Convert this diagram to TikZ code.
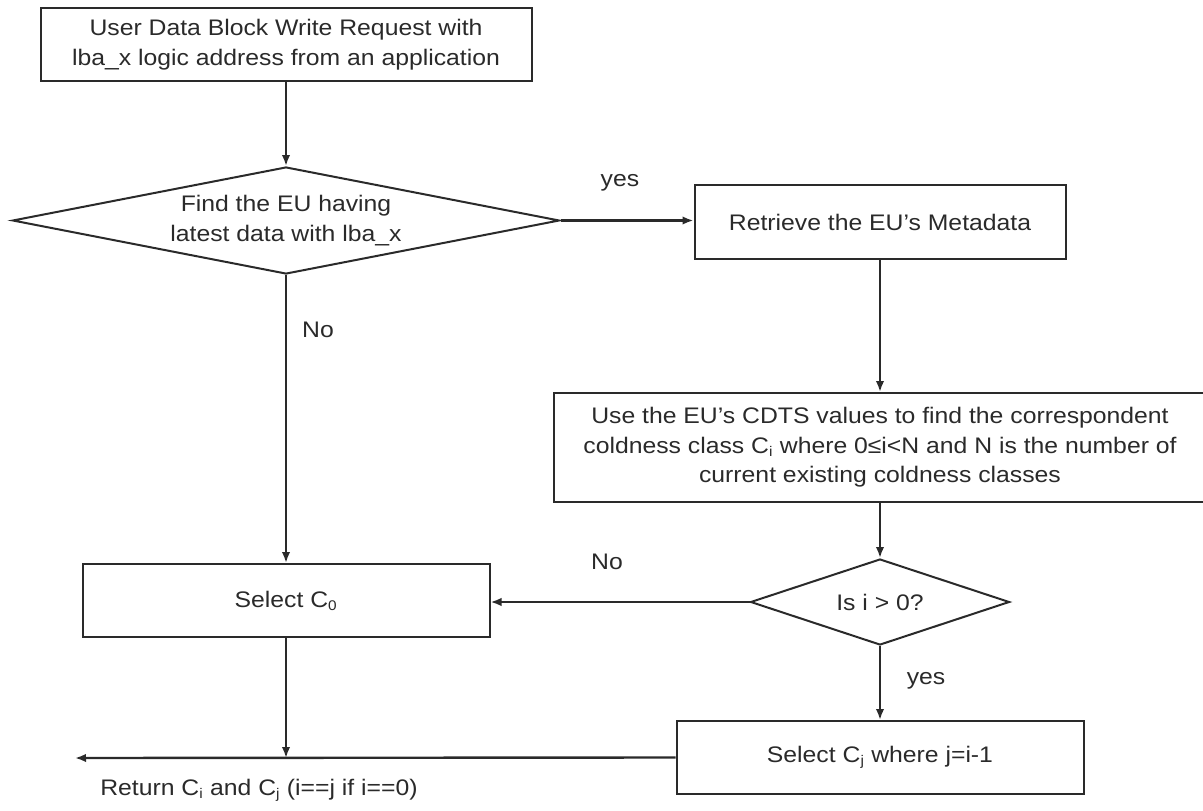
\documentclass[tikz,border=0pt]{standalone}
\usepackage{fontspec}
\setmainfont[FakeStretch=1.1]{Liberation Sans}
\usetikzlibrary{shapes.geometric,arrows.meta}
\definecolor{ink}{HTML}{2A2A2A}
\tikzset{
  x=1pt,y=-1pt,
  every node/.style={font=\fontsize{22.5}{29.5}\selectfont, text=ink},
  procbox/.style={draw=ink, line width=2pt, rectangle, inner sep=0pt, align=center},
  decision/.style={draw=ink, line width=2pt, diamond, inner xsep=0pt, inner ysep=-12pt, aspect=5, align=center},
  flow/.style={draw=ink, line width=2.4pt, -{Latex[length=11pt,width=8.5pt]}},
  lbl/.style={inner sep=0pt}
}
\newcommand{\sbs}[1]{\textsubscript{\fontsize{14}{14}\selectfont #1}}
\begin{document}
\begin{tikzpicture}
\useasboundingbox (0,0) rectangle (1203,811);
\node[procbox, minimum width=491pt, minimum height=73pt] (top) at (286,44.5)
  {User Data Block Write Request with\\lba\_x logic address from an application};
\node[decision, minimum width=547pt, minimum height=107pt] (d1) at (286,220.5)
  {Find the EU having\\latest data with lba\_x};
\node[procbox, minimum width=371pt, minimum height=74pt] (ret) at (880,222)
  {Retrieve the EU's Metadata};
\node[procbox, minimum width=652pt, minimum height=109pt] (cdts) at (880,447.5)
  {Use the EU's CDTS values to find the correspondent\\coldness class C\sbs{i} where 0≤i<N and N is the number of\\current existing coldness classes};
\node[decision, minimum width=259pt, minimum height=86pt] (d2) at (880,602)
  {Is i > 0?};
\node[procbox, minimum width=407pt, minimum height=73pt] (c0) at (286,600.5)
  {Select C\sbs{0}};
\node[procbox, minimum width=407pt, minimum height=73pt] (cj) at (880,757.5)
  {Select C\sbs{j} where j=i-1};
\coordinate (retend) at (75,758);

\draw[flow] (top.south) -- (top.south |- d1.north);
\draw[flow] (d1.east) -- (d1.east -| ret.west);
\draw[flow] (ret.south) -- (ret.south |- cdts.north);
\draw[flow] (cdts.south) -- (cdts.south |- d2.north);
\draw[flow] (d2.west) -- (d2.west -| c0.east);
\draw[flow] (d1.south) -- (d1.south |- c0.north);
\draw[flow] (d2.south) -- (d2.south |- cj.north);
\draw[flow] (cj.west) -- (retend);
\draw[flow] (c0.south) -- (c0.south |- retend);

\node[lbl] (yes1) at (620,183) {yes};
\node[lbl] (no1) at (318,330) {No};
\node[lbl] (no2) at (607,562) {No};
\node[lbl] (yes2) at (926,681) {yes};
\node[lbl] (rtn) at (259,790) {Return C\sbs{i} and C\sbs{j} (i==j if i==0)};
\end{tikzpicture}
\end{document}
